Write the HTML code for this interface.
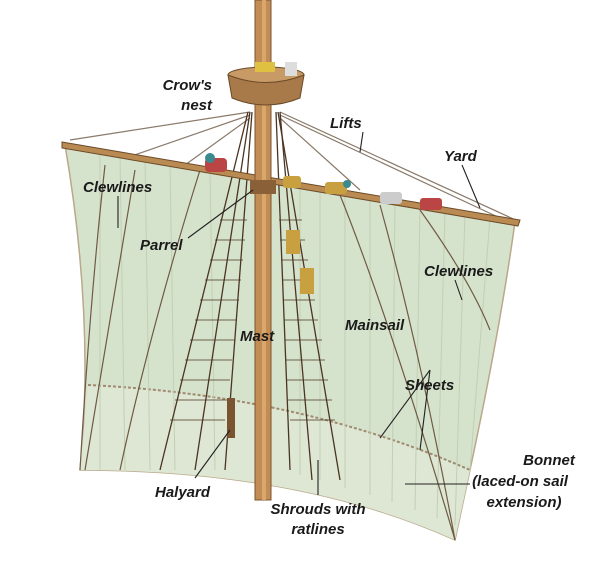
<!DOCTYPE html>
<html><head><style>
html,body{margin:0;padding:0;background:#fff;}
svg{display:block}
text{font-family:"Liberation Sans",sans-serif;font-weight:bold;font-style:italic;font-size:15px;fill:#1a1a1a}
</style></head><body>
<svg width="610" height="567" viewBox="0 0 610 567">
<!-- lifts -->
<g stroke="#8a7a6a" stroke-width="1.2" fill="none">
<line x1="250" y1="112" x2="70" y2="140"/><line x1="250" y1="115" x2="120" y2="160"/>
<line x1="250" y1="118" x2="185" y2="165"/>
<line x1="280" y1="112" x2="520" y2="222"/><line x1="280" y1="115" x2="500" y2="218"/>
<line x1="280" y1="118" x2="360" y2="190"/>
<line x1="258" y1="0" x2="255" y2="70"/><line x1="265" y1="0" x2="262" y2="70"/>
</g>
<!-- sail -->
<path d="M65,145 L515,222 Q500,330 470,470 L455,540 Q300,470 80,470 Q95,320 65,145 Z" fill="#d6e3cc" stroke="#b9a88a" stroke-width="1.5"/>
<path d="M80,470 Q300,470 455,540 L470,470 Q300,395 88,385 Z" fill="#dde7d3"/>
<path d="M88,385 Q300,395 470,470" fill="none" stroke="#a08a70" stroke-width="2" stroke-dasharray="3,2"/>
<g stroke="#c2cfb5" stroke-width="1">
<line x1="100" y1="150" x2="100" y2="470"/>
<line x1="120" y1="155" x2="125" y2="470"/><line x1="145" y1="159" x2="150" y2="470"/><line x1="170" y1="163" x2="175" y2="470"/>
<line x1="210" y1="170" x2="215" y2="470"/><line x1="300" y1="186" x2="300" y2="475"/><line x1="320" y1="190" x2="320" y2="480"/>
<line x1="345" y1="194" x2="345" y2="488"/><line x1="370" y1="198" x2="370" y2="495"/><line x1="395" y1="202" x2="392" y2="502"/><line x1="420" y1="207" x2="415" y2="510"/>
<line x1="445" y1="211" x2="437" y2="518"/><line x1="465" y1="214" x2="455" y2="525"/><line x1="490" y1="218" x2="470" y2="470"/>
</g>
<!-- clewlines & sheets -->
<g stroke="#6f5a45" stroke-width="1.2" fill="none">
<path d="M105,165 Q90,300 80,470"/><path d="M135,170 Q110,320 85,470"/>
<path d="M340,195 Q390,320 455,540"/><path d="M380,205 Q420,350 455,540"/>
<path d="M420,210 Q470,280 490,330"/>
<path d="M200,170 Q150,330 120,470"/>
</g>
<!-- shrouds -->
<g stroke="#4a3422" stroke-width="1.3" fill="none">
<line x1="248" y1="112" x2="160" y2="470"/><line x1="250" y1="112" x2="195" y2="470"/>
<line x1="252" y1="112" x2="225" y2="470"/>
<line x1="278" y1="112" x2="340" y2="480"/><line x1="280" y1="112" x2="312" y2="480"/>
<line x1="276" y1="112" x2="290" y2="470"/>
</g>
<g stroke="#4a3422" stroke-width="0.8">
<path d="M170,420 L225,420 M175,400 L228,400 M180,380 L230,380 M185,360 L232,360 M190,340 L235,340 M195,320 L237,320 M200,300 L239,300 M205,280 L241,280 M210,260 L243,260 M215,240 L245,240 M220,220 L247,220"/>
<path d="M290,420 L335,420 M288,400 L332,400 M287,380 L328,380 M286,360 L325,360 M285,340 L322,340 M284,320 L318,320 M283,300 L315,300 M282,280 L312,280 M281,260 L308,260 M280,240 L305,240 M279,220 L302,220"/>
</g>
<!-- yard -->
<path d="M62,142 L520,220 L518,226 L62,148 Z" fill="#b98a52" stroke="#6b4a28" stroke-width="1"/>
<!-- mast -->
<rect x="255" y="0" width="16" height="500" fill="#c28d55" stroke="#7a5430" stroke-width="1"/>
<rect x="262" y="0" width="4" height="500" fill="#d9a66c"/>
<!-- parrel -->
<rect x="250" y="180" width="26" height="14" fill="#8a6038"/>
<!-- crows nest -->
<ellipse cx="266" cy="75" rx="38" ry="8" fill="#c79a66" stroke="#6b4a28"/>
<path d="M228,75 L232,98 Q266,112 300,98 L304,75 Q266,90 228,75 Z" fill="#a87a4a" stroke="#6b4a28"/>
<rect x="255" y="62" width="20" height="10" fill="#e0c040"/>
<rect x="285" y="62" width="12" height="14" fill="#ddd"/>
<!-- sailors -->
<g>
<rect x="205" y="158" width="22" height="14" fill="#b44" rx="4"/><circle cx="210" cy="158" r="5" fill="#3a8a90"/>
<rect x="283" y="176" width="18" height="12" fill="#c9a040" rx="3"/>
<rect x="325" y="182" width="22" height="12" fill="#c9a040" rx="3"/><circle cx="347" cy="184" r="4" fill="#3a8a90"/>
<rect x="380" y="192" width="22" height="12" fill="#ccc" rx="3"/>
<rect x="420" y="198" width="22" height="12" fill="#b44" rx="3"/>
<rect x="286" y="230" width="14" height="24" fill="#c9a040"/>
<rect x="300" y="268" width="14" height="26" fill="#c9a040"/>
<rect x="227" y="398" width="8" height="40" fill="#7a5430"/>
</g>
<!-- leader lines -->
<g stroke="#222" stroke-width="1.1">
<line x1="363" y1="132" x2="360" y2="152"/>
<line x1="462" y1="165" x2="480" y2="208"/>
<line x1="118" y1="196" x2="118" y2="228"/>
<line x1="188" y1="238" x2="253" y2="190"/>
<line x1="455" y1="280" x2="462" y2="300"/>
<line x1="430" y1="370" x2="380" y2="438"/><line x1="430" y1="370" x2="420" y2="450"/>
<line x1="405" y1="484" x2="470" y2="484"/>
<line x1="195" y1="478" x2="230" y2="430"/>
<line x1="318" y1="495" x2="318" y2="460"/>
</g>
<!-- labels -->
<text x="212" y="90" text-anchor="end">Crow's</text>
<text x="212" y="110" text-anchor="end">nest</text>
<text x="330" y="128">Lifts</text>
<text x="444" y="161">Yard</text>
<text x="83" y="192">Clewlines</text>
<text x="140" y="250">Parrel</text>
<text x="424" y="276">Clewlines</text>
<text x="240" y="341">Mast</text>
<text x="345" y="330">Mainsail</text>
<text x="405" y="390">Sheets</text>
<text x="549" y="465" text-anchor="middle">Bonnet</text>
<text x="520" y="486" text-anchor="middle">(laced-on sail</text>
<text x="524" y="507" text-anchor="middle">extension)</text>
<text x="155" y="497">Halyard</text>
<text x="318" y="514" text-anchor="middle">Shrouds with</text>
<text x="318" y="534" text-anchor="middle">ratlines</text>
</svg>
</body></html>
